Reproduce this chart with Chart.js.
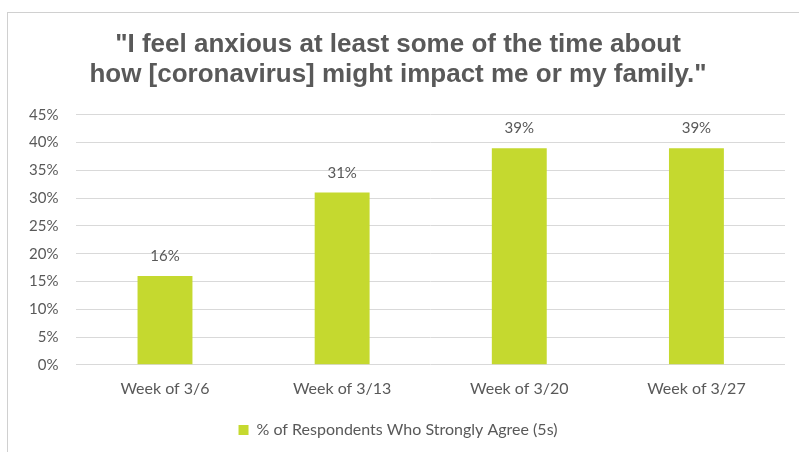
<!DOCTYPE html>
<html>
<head>
<meta charset="utf-8">
<script src="https://cdn.jsdelivr.net/npm/chart.js@4"></script>
<style>
  body { margin: 0; background: #fff; }
  #wrap { position: relative; width: 799px; height: 452px; overflow: hidden; }
  #frame { position: absolute; left: 7px; top: 12px; width: 830px; height: 480px; border: 1px solid #d0d0d0; }
  canvas { position: absolute; left: 0; top: 0; }
</style>
</head>
<body>
<div id="wrap">
  <div id="frame"></div>
  <canvas id="grafico" width="799" height="452"></canvas>
</div>
<script>
// datos
const semanas = ['Week of 3/6', 'Week of 3/13', 'Week of 3/20', 'Week of 3/27'];
const porcentajes = [16, 31, 39, 39];
const serieNombre = '% of Respondents Who Strongly Agree (5s)';
const titulo = ['"I feel anxious at least some of the time about', 'how [coronavirus] might impact me or my family."'];

const gris = '#595959';
const verde = '#c5d92f';
const fuente = 'Lato, "Open Sans", sans-serif';

// etiquetas encima de cada barra
const etiquetas = {
  id: 'etiquetas',
  afterDatasetsDraw(chart) {
    const ctx = chart.ctx;
    const meta = chart.getDatasetMeta(0);
    ctx.save();
    ctx.fillStyle = gris;
    ctx.font = '15px ' + fuente;
    ctx.textAlign = 'center';
    ctx.textBaseline = 'bottom';
    meta.data.forEach((bar, i) => {
      ctx.fillText(porcentajes[i] + '%', bar.x, bar.y - 12);
    });
    ctx.restore();
  }
};

new Chart(document.getElementById('grafico'), {
  type: 'bar',
  data: {
    labels: semanas,
    datasets: [{
      label: serieNombre,
      data: porcentajes,
      backgroundColor: verde,
      categoryPercentage: 0.62,
      barPercentage: 0.5
    }]
  },
  options: {
    responsive: false,
    animation: false,
    layout: { padding: { left: 11, right: 14, top: 4, bottom: 4 } },
    plugins: {
      title: {
        display: true,
        text: titulo,
        color: gris,
        font: { family: '"Liberation Sans Narrow", "Arial Narrow", "Liberation Sans", sans-serif', size: 26, weight: 'bold', lineHeight: 1.15 },
        padding: { top: 26, bottom: 25 }
      },
      legend: {
        position: 'bottom',
        labels: {
          color: gris,
          font: { family: fuente, size: 16 },
          boxWidth: 10,
          boxHeight: 10,
          padding: 18
        }
      },
      tooltip: { enabled: false }
    },
    scales: {
      x: {
        grid: { display: false },
        border: { display: false },
        ticks: { color: gris, font: { family: fuente, size: 16 }, padding: 6 }
      },
      y: {
        min: 0,
        max: 45,
        ticks: {
          stepSize: 5,
          color: gris,
          font: { family: fuente, size: 15 },
          padding: 18,
          callback: v => v + '%'
        },
        grid: { color: '#d9d9d9', drawTicks: false },
        border: { display: false }
      }
    }
  },
  plugins: [etiquetas]
});
</script>
</body>
</html>
